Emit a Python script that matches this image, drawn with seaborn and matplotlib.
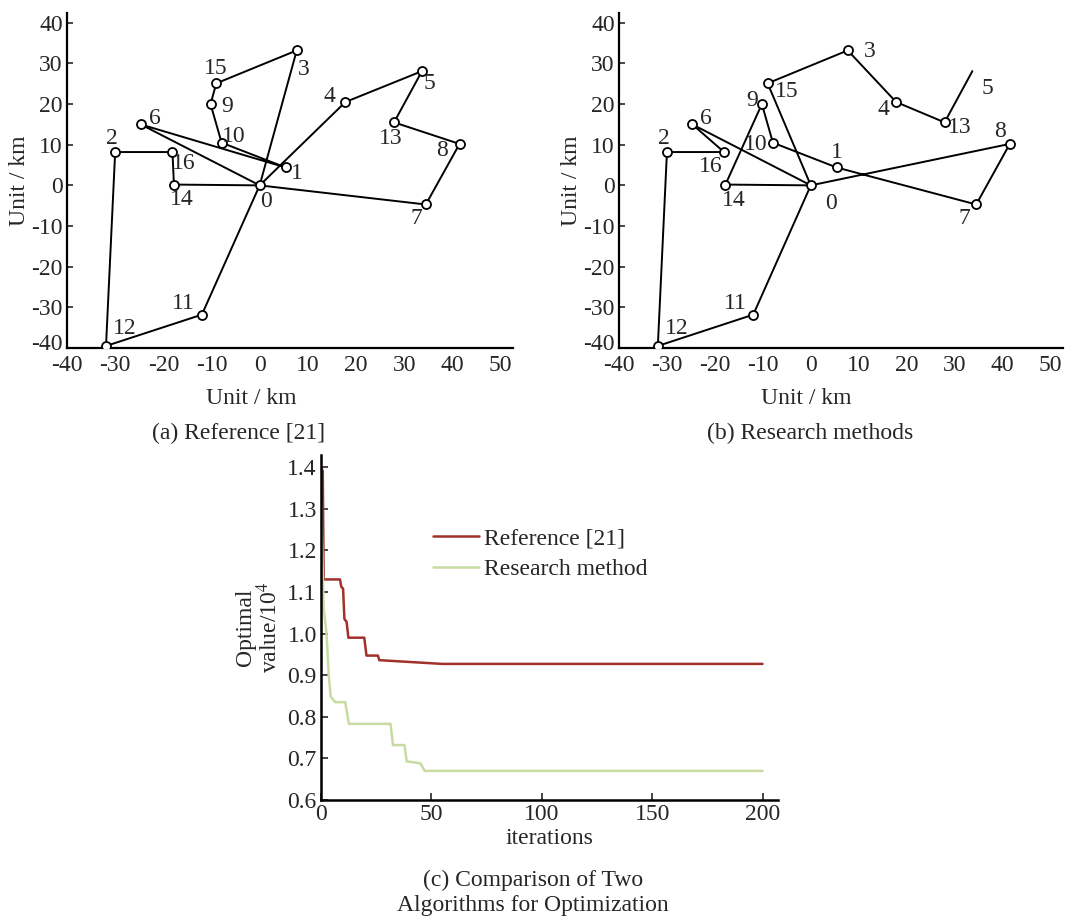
import numpy as np
import pandas as pd
import matplotlib
matplotlib.use("Agg")
import matplotlib.pyplot as plt
import matplotlib.transforms as mtransforms
import seaborn as sns

sns.set_theme(style="ticks")
plt.rcParams['font.family'] = ['Liberation Serif', 'DejaVu Serif']
plt.rcParams['mathtext.fontset'] = 'stix'

# ---------------- data ----------------
node_ids = list(range(17))
node_x = [0.0, 5.4, -30.0, 7.7, 17.8, 33.7, -24.7, 34.5, 41.5, -10.2, -7.9, -12.0, -31.9, 27.9, -17.8, -9.0, -18.1]
node_y = [0.0, 4.4, 8.2, 33.2, 20.5, 28.1, 15.0, -4.7, 10.2, 20.0, 10.5, -31.8, -39.5, 15.5, 0.2, 25.1, 8.2]

routes_a = [
    [0, 3, 15, 9, 10, 1, 6, 0],
    [0, 4, 5, 13, 8, 7, 0],
    [0, 14, 16, 2, 12, 11, 0],
]
routes_b = [
    [0, 15, 3, 4, 13, 5],
    [0, 14, 9, 10, 1, 7, 8, 0],
    [0, 6, 16, 2, 12, 11, 0],
]
hidden_nodes_b = [5]

ref_iter = [0, 0.8, 1.2, 8.6, 9.2, 10, 10.6, 11.6, 12.4, 19.6, 20.6, 25.8, 26.4, 55, 200]
ref_val = [1.40, 1.39, 1.13, 1.13, 1.112, 1.108, 1.035, 1.028, 0.99, 0.99, 0.947, 0.947, 0.936, 0.927, 0.927]
res_iter = [0, 1.2, 2.5, 3.5, 4.4, 6, 6.5, 11, 12.6, 31.5, 32.6, 37.8, 38.8, 45, 47, 200]
res_val = [1.32, 1.06, 1.0, 0.9, 0.848, 0.838, 0.835, 0.835, 0.783, 0.783, 0.732, 0.732, 0.693, 0.688, 0.670, 0.670]

series_names = ["Reference [21]", "Research method"]
xy_ticks = [-40, -30, -20, -10, 0, 10, 20, 30, 40, 50]
y_ticks = [-40, -30, -20, -10, 0, 10, 20, 30, 40]
opt_yticks = [0.6, 0.7, 0.8, 0.9, 1.0, 1.1, 1.2, 1.3, 1.4]
opt_xticks = [0, 50, 100, 150, 200]

# label offsets in pixels (dx right, dy up)
label_off_a = {0: (6, -16), 1: (11, -6), 2: (-3, 14), 3: (7, -19), 4: (-16, 6), 5: (7, -12),
               6: (14, 6), 7: (-9, -14), 8: (-18, -7), 9: (17, -2), 10: (12, 6), 11: (-19, 11),
               12: (19, 17), 13: (-3, -16), 14: (8, -15), 15: (-1, 15), 16: (11, -11)}
label_off_b = {0: (20, -18), 1: (0, 15), 2: (-3, 14), 3: (22, -1), 4: (-13, -7), 5: (15, -17),
               6: (14, 6), 7: (-12, -14), 8: (-10, 12), 9: (-10, 4), 10: (-17, -2), 11: (-18, 11),
               12: (19, 17), 13: (15, -5), 14: (8, -16), 15: (19, -8), 16: (-13, -14)}

FS = 17
W, H = 1065, 923
fig = plt.figure(figsize=(W / 100, H / 100), dpi=100)

nodes = pd.DataFrame({"id": node_ids, "x": node_x, "y": node_y})


def route_panel(ax, routes, offsets, hidden, xlabel_center_px):
    for r in routes:
        seg = nodes.set_index("id").loc[r].reset_index()
        sns.lineplot(data=seg, x="x", y="y", sort=False, estimator=None, ax=ax,
                     color="black", linewidth=1.4, zorder=2)
    shown = nodes[~nodes["id"].isin(hidden)]
    ax.plot(shown["x"], shown["y"], linestyle="none", marker="o", markersize=6.5,
            markerfacecolor="white", markeredgecolor="black", markeredgewidth=1.3, zorder=3)
    for i, x, y in zip(node_ids, node_x, node_y):
        dx, dy = offsets[i]
        ax.annotate(str(i), (x, y), xytext=(dx, dy), textcoords="offset pixels",
                    ha="center", va="center", fontsize=FS)
    ax.set_xticks(xy_ticks)
    ax.set_yticks(y_ticks)
    ax.set_xticklabels([str(t) for t in xy_ticks])
    ax.set_yticklabels([str(t) for t in y_ticks])
    ax.set_xlim(-40, 52.6)
    ax.set_ylim(-40, 42.4)
    ax.tick_params(axis="x", length=0, pad=5, labelsize=FS)
    ax.tick_params(axis="y", direction="in", length=4, width=1.2, pad=3, labelsize=FS)
    # lift the lowest y tick label a little, as in the reference
    lbl = ax.get_yticklabels()[0]
    lbl.set_transform(lbl.get_transform() + mtransforms.Affine2D().translate(0, 6))
    sns.despine(ax=ax)
    for s in ["left", "bottom"]:
        ax.spines[s].set_linewidth(1.6)
        ax.spines[s].set_color("black")
    ax.set_xlabel("Unit / km", fontsize=FS)
    ax.set_ylabel("Unit / km", fontsize=FS, labelpad=1)
    pos = ax.get_position()
    ax.xaxis.set_label_coords((xlabel_center_px / W - pos.x0) / pos.width, -0.12)
    ax.grid(False)


ax_a = fig.add_axes([67 / W, 1 - 348 / H, 446 / W, 335 / H])
route_panel(ax_a, routes_a, label_off_a, [], 251)
ax_b = fig.add_axes([619 / W, 1 - 348 / H, 444 / W, 335 / H])
route_panel(ax_b, routes_b, label_off_b, hidden_nodes_b, 806)

fig.text(239 / W, 1 - 433 / H, "(a) Reference [21]", ha="center", va="center", fontsize=FS)
fig.text(810 / W, 1 - 433 / H, "(b) Research methods", ha="center", va="center", fontsize=FS)

# ---------------- panel c ----------------
ax_c = fig.add_axes([321 / W, 1 - 800 / H, 457 / W, 345 / H])
df_ref = pd.DataFrame({"iter": ref_iter, "val": ref_val, "method": series_names[0]})
df_res = pd.DataFrame({"iter": res_iter, "val": res_val, "method": series_names[1]})
df = pd.concat([df_ref, df_res], ignore_index=True)
sns.lineplot(data=df, x="iter", y="val", hue="method", sort=False, estimator=None,
             palette={series_names[0]: "#A0322B", series_names[1]: "#C8DCA2"},
             linewidth=1.8, ax=ax_c)
ax_c.set_xticks(opt_xticks)
ax_c.set_yticks(opt_yticks)
ax_c.set_xticklabels([str(t) for t in opt_xticks])
ax_c.set_yticklabels([f"{t:.1f}" for t in opt_yticks])
ax_c.set_xlim(0, 207)
ax_c.set_ylim(0.6, 1.429)
ax_c.tick_params(axis="both", direction="in", length=5, width=1.2, labelsize=FS, pad=3)
sns.despine(ax=ax_c)
for s in ["left", "bottom"]:
    ax_c.spines[s].set_linewidth(1.8)
    ax_c.spines[s].set_color("black")
ax_c.set_xlabel("iterations", fontsize=FS, labelpad=2)
ax_c.set_ylabel("Optimal\nvalue/10$^4$", fontsize=FS, labelpad=4, linespacing=1.0)
ax_c.grid(False)
leg = ax_c.legend(loc="upper left", bbox_to_anchor=(0.199, 0.85), frameon=False,
                  fontsize=FS, handlelength=1.95, handletextpad=0.22, labelspacing=0.37)

fig.text(533 / W, 1 - 880 / H, "(c) Comparison of Two", ha="center", va="center", fontsize=FS)
fig.text(533 / W, 1 - 906 / H, "Algorithms for Optimization", ha="center", va="center", fontsize=FS)

fig.savefig("out.png", dpi=100, facecolor="white")
